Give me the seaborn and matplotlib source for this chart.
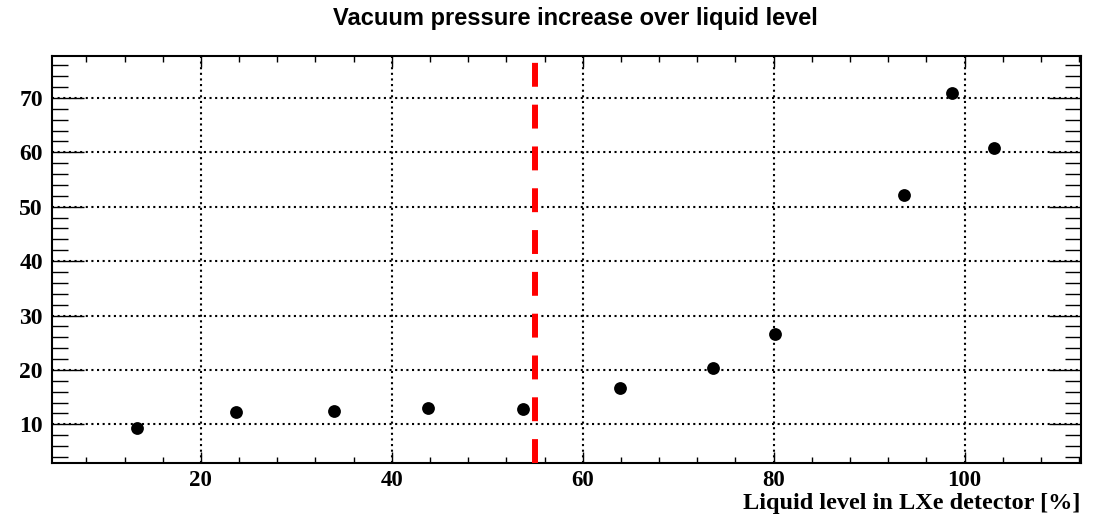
import matplotlib
matplotlib.use("Agg")
import matplotlib.pyplot as plt
from matplotlib.ticker import MultipleLocator
import seaborn as sns
import pandas as pd

# Data
liquid_level = [13.3, 23.7, 33.9, 43.8, 53.7, 63.9, 73.6, 80.1, 93.7, 98.7, 103.1]
pressure = [9.3, 12.25, 12.4, 13.0, 12.8, 16.7, 20.4, 26.6, 52.2, 70.9, 60.8]
threshold = 55.0
x_label = "Liquid level in LXe detector [%]"
title = "Vacuum pressure increase over liquid level"

sns.set_style("white")
plt.rcParams["font.family"] = ["Liberation Serif", "DejaVu Serif"]
plt.rcParams["text.color"] = "black"
plt.rcParams["xtick.color"] = "black"
plt.rcParams["ytick.color"] = "black"
plt.rcParams["axes.labelcolor"] = "black"

df = pd.DataFrame({"level": liquid_level, "pressure": pressure})

fig = plt.figure(figsize=(10.99, 5.15), dpi=100)
ax = fig.add_axes([52/1099, 1 - 463/515, (1081-52)/1099, (463-56)/515])

ax.set_xlim(4.4, 112.2)
ax.set_ylim(2.9, 77.7)

ax.grid(True, which="major", color="black", linestyle=(0, (1, 1.7)), linewidth=1.5)
ax.set_axisbelow(True)

ax.axvline(threshold, color="#ff0000", linewidth=4.3, linestyle=(0, (4, 3)),
           dash_capstyle="butt", zorder=3)

sns.scatterplot(data=df, x="level", y="pressure", ax=ax, color="black",
                s=85, edgecolor="black", linewidth=0, zorder=4, legend=False)

ax.xaxis.set_major_locator(MultipleLocator(20))
ax.xaxis.set_minor_locator(MultipleLocator(4))
ax.yaxis.set_major_locator(MultipleLocator(10))
ax.yaxis.set_minor_locator(MultipleLocator(2))

ax.tick_params(axis="x", which="major", direction="in", length=8, width=1.0,
               top=True, bottom=True, pad=5, labelsize=16.5, colors="black")
ax.tick_params(axis="x", which="minor", direction="in", length=4.3, width=1.0,
               top=True, bottom=True, colors="black")
ax.tick_params(axis="y", which="major", direction="in", length=23, width=1.0,
               left=True, right=True, pad=6.5, labelsize=17, colors="black")
ax.tick_params(axis="y", which="minor", direction="in", length=11.5, width=1.0,
               left=True, right=True, colors="black")
for lab in ax.get_xticklabels() + ax.get_yticklabels():
    lab.set_fontweight("bold")
    lab.set_color("black")

for sp in ax.spines.values():
    sp.set_visible(True)
    sp.set_color("black")
    sp.set_linewidth(1.5)

ax.set_xlabel("")
ax.set_ylabel("")
fig.text(1080/1099, 1 - 509/515, x_label, ha="right", va="baseline", color="black",
         fontsize=17.5, fontweight="bold", family=["Liberation Serif", "DejaVu Serif"])
fig.text(575/1099, 1 - 18/515, title, ha="center", va="center", color="black",
         fontsize=17, fontweight="bold", family=["Liberation Sans", "DejaVu Sans"])

fig.savefig("out.png", dpi=100)
